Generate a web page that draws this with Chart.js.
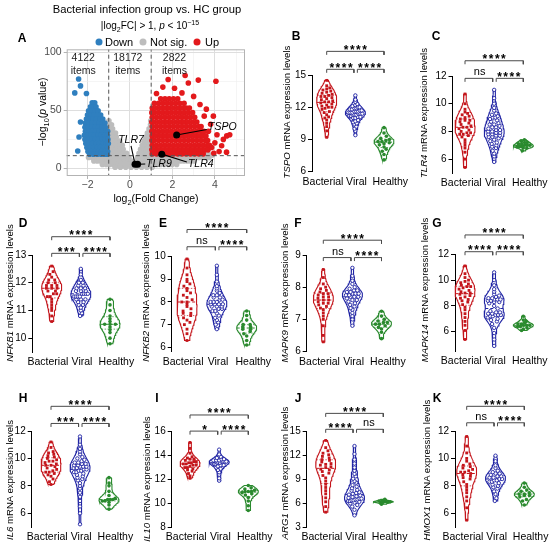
<!DOCTYPE html>
<html><head><meta charset="utf-8">
<script src="https://cdn.jsdelivr.net/npm/chart.js@4.4.1/dist/chart.umd.min.js"></script>
<style>
html,body{margin:0;padding:0;background:#fff;}
body{width:550px;height:548px;position:relative;overflow:hidden;font-family:'Liberation Sans',Arial,Helvetica,sans-serif;color:#000;}
canvas{position:absolute;}
.tx{position:absolute;white-space:nowrap;line-height:1;transform:translate(-50%,-50%);}
.rot{transform:translate(-50%,-50%) rotate(-90deg);}
.let{font-weight:bold;font-size:12px;}
.yt{font-size:9.6px;}
.lg{position:absolute;white-space:nowrap;line-height:1;font-size:11px;transform:translateY(-50%);}
.dot{position:absolute;width:7px;height:7px;border-radius:50%;transform:translate(-50%,-50%);}
sub,sup{font-size:70%;line-height:0;}
</style></head><body>
<script>
const FONT = "'Liberation Sans', Arial, Helvetica, sans-serif";
Chart.defaults.font.family = FONT;
Chart.defaults.color = '#000';
Chart.defaults.animation = false;
Chart.defaults.plugins.legend.display = false;
Chart.defaults.plugins.tooltip.enabled = false;

// ================= Panel A (volcano) data =================
const downPts = [
 [-1.78,56.5],[-1.66,56.5],
 [-1.86,53],[-1.72,53],[-1.6,53],
 [-1.95,49.5],[-1.8,49.5],[-1.64,49.5],[-1.5,49.5],
 [-2.0,46],[-1.84,46],[-1.68,46],[-1.52,46],[-1.38,46],
 [-2.05,42.5],[-1.9,42.5],[-1.74,42.5],[-1.58,42.5],[-1.42,42.5],[-1.28,42.5],
 [-2.1,39],[-1.94,39],[-1.78,39],[-1.62,39],[-1.46,39],[-1.3,39],[-1.18,39],
 [-2.12,35.5],[-1.96,35.5],[-1.8,35.5],[-1.64,35.5],[-1.48,35.5],[-1.32,35.5],[-1.16,35.5],
 [-2.1,32],[-1.94,32],[-1.78,32],[-1.62,32],[-1.46,32],[-1.3,32],[-1.14,32],[-1.05,32],
 [-2.15,28.5],[-1.99,28.5],[-1.83,28.5],[-1.67,28.5],[-1.51,28.5],[-1.35,28.5],[-1.19,28.5],[-1.06,28.5],
 [-2.12,25],[-1.96,25],[-1.8,25],[-1.64,25],[-1.48,25],[-1.32,25],[-1.16,25],[-1.04,25],
 [-2.08,21.5],[-1.92,21.5],[-1.76,21.5],[-1.6,21.5],[-1.44,21.5],[-1.28,21.5],[-1.12,21.5],[-1.02,21.5],
 [-2.03,18],[-1.87,18],[-1.71,18],[-1.55,18],[-1.39,18],[-1.23,18],[-1.08,18],
 [-1.98,14.5],[-1.82,14.5],[-1.66,14.5],[-1.5,14.5],[-1.34,14.5],[-1.18,14.5],[-1.05,14.5],
 [-1.9,12.2],[-1.72,12.2],[-1.54,12.2],[-1.36,12.2],[-1.2,12.2],[-1.06,12.2],
 [-2.42,77],[-2.33,71],[-2.6,65],[-2.05,64.5],[-2.33,40],[-2.4,27],[-2.46,15]
];
const upRows = [
 [60,[1.45,1.65,1.85,2.05,2.25]],
 [56,[1.15,1.35,1.55,1.75,1.95,2.15,2.35,2.55]],
 [52,[1.05,1.25,1.45,1.65,1.85,2.05,2.25,2.45,2.65,2.8]],
 [48,[1.03,1.15,1.35,1.55,1.75,1.95,2.15,2.35,2.55,2.75,2.95]],
 [44,[1.05,1.25,1.45,1.65,1.85,2.05,2.25,2.45,2.65,2.85,3.05]],
 [40,[1.03,1.15,1.35,1.55,1.75,1.95,2.15,2.35,2.55,2.75,2.95,3.15]],
 [36,[1.05,1.25,1.45,1.65,1.85,2.05,2.25,2.45,2.65,2.85,3.05,3.25,3.35]],
 [32,[1.03,1.15,1.35,1.55,1.75,1.95,2.15,2.35,2.55,2.75,2.95,3.15,3.35,3.48]],
 [28,[1.05,1.25,1.45,1.65,1.85,2.05,2.25,2.45,2.65,2.85,3.05,3.25,3.45,3.58]],
 [24,[1.03,1.15,1.35,1.55,1.75,1.95,2.15,2.35,2.55,2.75,2.95,3.15,3.35,3.55,3.66]],
 [20,[1.05,1.25,1.45,1.65,1.85,2.05,2.25,2.45,2.65,2.85,3.05,3.25,3.45,3.65,3.75]],
 [16,[1.03,1.15,1.35,1.55,1.75,1.95,2.15,2.35,2.55,2.75,2.95,3.15,3.35,3.55,3.68]],
 [12.5,[1.05,1.25,1.45,1.65,1.85,2.05,2.25,2.45,2.65,2.85,3.05,3.25,3.45]]
];
const upOutliers = [[1.25,64.5],[1.8,76.5],[1.55,70],[2.1,69],[2.45,65],[2.6,80],[2.75,73.5],[3.0,62],[3.22,76],[4.05,75],[3.3,55],[3.6,51],[3.5,45],[3.93,45],[3.8,38],[3.7,32],[4.1,29],[4.56,28],[4.7,29],[4.4,25],[4.0,22],[4.32,19.5],[3.85,18],[4.55,14],[4.2,14.5],[3.95,13]];
const nsRows = [
 [41,[-0.99,0.98]],
 [37.5,[-0.98,-0.87,0.97]],
 [34,[-0.98,-0.82,0.9]],
 [30.5,[-0.97,-0.82,-0.68,0.82,0.96]],
 [27,[-0.96,-0.8,-0.64,0.74,0.9]],
 [23.5,[-0.96,-0.8,-0.64,-0.48,0.66,0.82,0.97]],
 [20,[-0.95,-0.79,-0.63,-0.47,-0.36,0.58,0.74,0.9]],
 [16.5,[-0.96,-0.8,-0.64,-0.48,-0.32,0.5,0.66,0.82,0.97]],
 [13,[-0.95,-0.79,-0.63,-0.47,-0.31,-0.16,0.43,0.59,0.75,0.91]],
 [9.5,[-1.95,-1.78,-1.62,-1.46,-1.3,-1.14,-0.98,-0.82,-0.66,-0.5,-0.34,-0.18,-0.05,0.36,0.52,0.68,0.84,1.0,1.16,1.32,1.48,1.64,1.8,1.96,2.12,2.28,2.44,2.6,2.76,2.92,3.08,3.24,3.4,3.56,3.72]],
 [6.5,[-1.7,-1.54,-1.38,-1.22,-1.06,-0.9,-0.74,-0.58,-0.42,-0.26,-0.1,0.04,0.3,0.46,0.62,0.78,0.94,1.1,1.26,1.42,1.58,1.74,1.9,2.06,2.22,2.38,2.54,2.7,2.86,3.02]],
 [3.5,[-1.3,-1.12,-0.94,-0.76,-0.58,-0.4,-0.22,-0.04,0.12,0.24,0.4,0.56,0.72,0.9,1.08,1.26,1.44,1.62,1.8,1.98,2.2]],
 [1,[-0.7,-0.45,-0.2,0.05,0.3,0.55,0.8,1.05]]
];
const nsExtra = [[3.55,12.5],[3.72,12],[3.88,11.5]];
const geneNames = ['TSPO','TLR4','TLR7','TLR9'];
const genePts = [[2.2,28.8],[1.5,12.3],[0.24,3.6],[0.36,3.6]];
const itemCounts = ['4122','18172','2822'];
const fcCut = 1;
const pCut = 11;
const aXTicks = [-2,0,2,4];
const aYTicks = [0,50,100];

// ================= Violin panels data =================
const groups = ['Bacterial','Viral','Healthy'];

const TSPO_bacterial = [14.5,14.0,13.8,13.7,13.6,13.5,13.4,13.3,13.2,13.1,13.0,13.0,12.9,12.8,12.7,12.6,12.5,12.5,12.4,12.3,12.2,12.1,12.0,12.0,11.9,11.8,11.6,11.5,11.3,11.1,11.0,10.8,10.5,10.2,9.8,9.2];
const TSPO_viral = [13.1,12.7,12.5,12.3,12.2,12.1,12.0,12.0,11.9,11.9,11.8,11.8,11.7,11.7,11.6,11.6,11.6,11.5,11.5,11.5,11.4,11.4,11.4,11.3,11.3,11.3,11.2,11.2,11.1,11.1,11.0,11.0,10.9,10.8,10.7,10.6,10.5,10.4,10.2,10.0,9.8,9.4];
const TSPO_healthy = [10.1,9.6,9.3,9.1,9.0,8.9,8.8,8.8,8.7,8.6,8.5,8.3,8.1,7.9,7.6,7.1];
const TSPO_ticks = [6,9,12,15];
const TSPO_range = [6,15];
const TSPO_sig = ['****','****','****'];
const TSPO_brackets = [17.2,15.53];

const TLR4_bacterial = [10.7,10.0,9.6,9.4,9.3,9.2,9.1,9.0,8.9,8.8,8.8,8.7,8.6,8.5,8.4,8.3,8.3,8.2,8.1,8.0,7.9,7.9,7.8,7.8,7.7,7.6,7.4,7.2,7.0,6.8,6.5,6.0,5.4];
const TLR4_viral = [11.0,10.4,10.0,9.7,9.5,9.3,9.2,9.1,9.0,9.0,8.9,8.8,8.7,8.6,8.5,8.5,8.4,8.3,8.3,8.2,8.1,8.1,8.0,8.0,7.9,7.9,7.8,7.8,7.7,7.7,7.6,7.6,7.5,7.4,7.3,7.2,7.1,7.0,6.9,6.8,6.6,6.4,6.2,5.8];
const TLR4_healthy = [7.4,7.3,7.2,7.2,7.1,7.1,7.0,7.0,7.0,6.9,6.9,6.9,6.8,6.8,6.6];
const TLR4_ticks = [6,8,10,12];
const TLR4_range = [5,12];
const TLR4_sig = ['****','ns','****'];
const TLR4_brackets = [13.1,11.83];

const NFKB1_bacterial = [12.6,12.4,12.3,12.2,12.1,12.1,12.0,12.0,11.9,11.9,11.9,11.8,11.8,11.8,11.7,11.7,11.6,11.6,11.5,11.5,11.4,11.3,11.2,11.1,11.0,10.8,10.6];
const NFKB1_viral = [12.5,12.3,12.1,12.0,12.0,11.9,11.9,11.8,11.8,11.8,11.7,11.7,11.7,11.6,11.6,11.6,11.6,11.5,11.5,11.5,11.5,11.4,11.4,11.4,11.3,11.3,11.2,11.2,11.1,11.0,10.9,10.8];
const NFKB1_healthy = [11.4,11.2,11.0,10.8,10.7,10.6,10.5,10.5,10.5,10.4,10.3,10.2,10.0,9.8];
const NFKB1_ticks = [10,11,12,13];
const NFKB1_range = [9.5,13];
const NFKB1_sig = ['****','***','****'];
const NFKB1_brackets = [13.66,13.06];

const NFKB2_bacterial = [9.9,9.5,9.2,9.0,8.9,8.8,8.7,8.6,8.5,8.4,8.3,8.2,8.1,8.0,8.0,7.9,7.8,7.7,7.6,7.5,7.5,7.4,7.3,7.2,7.1,7.0,6.8,6.6,6.3];
const NFKB2_viral = [9.6,9.2,8.9,8.7,8.6,8.5,8.4,8.3,8.3,8.2,8.2,8.1,8.1,8.0,8.0,8.0,7.9,7.9,7.9,7.9,7.8,7.8,7.8,7.7,7.7,7.6,7.6,7.5,7.4,7.3,7.2,7.1,7.0,6.8];
const NFKB2_healthy = [7.6,7.4,7.2,7.0,7.0,6.9,6.9,6.8,6.8,6.7,6.6,6.5,6.3,6.1];
const NFKB2_ticks = [6,7,8,9,10];
const NFKB2_range = [5.8,10];
const NFKB2_sig = ['****','ns','****'];
const NFKB2_brackets = [11.2,10.44];

const MAPK9_bacterial = [8.55,8.3,8.1,8.0,7.95,7.9,7.85,7.8,7.8,7.75,7.7,7.7,7.65,7.6,7.6,7.55,7.5,7.5,7.45,7.4,7.35,7.3,7.2,7.1,7.0,6.8,6.5,6.3];
const MAPK9_viral = [8.6,8.35,8.2,8.1,8.0,7.95,7.9,7.9,7.85,7.85,7.8,7.8,7.8,7.75,7.75,7.7,7.7,7.7,7.65,7.6,7.6,7.55,7.5,7.45,7.4,7.35,7.3,7.2,7.1,7.0,6.8];
const MAPK9_healthy = [7.25,7.1,7.0,6.95,6.9,6.9,6.85,6.85,6.8,6.75,6.7,6.6,6.4];
const MAPK9_ticks = [6,7,8,9];
const MAPK9_range = [6,9];
const MAPK9_sig = ['****','ns','****'];
const MAPK9_brackets = [9.46,8.92];

const MAPK14_bacterial = [11.1,10.5,10.2,10.0,9.9,9.8,9.7,9.6,9.5,9.5,9.4,9.3,9.2,9.1,9.0,9.0,8.9,8.8,8.7,8.6,8.5,8.4,8.3,8.1,7.9,7.7,7.4,7.1,6.8,6.5,6.1,5.4];
const MAPK14_viral = [10.6,10.0,9.6,9.3,9.1,8.9,8.8,8.7,8.6,8.6,8.5,8.5,8.5,8.4,8.4,8.3,8.3,8.2,8.0,7.8,7.6,7.5,7.5,7.4,7.4,7.3,7.3,7.3,7.2,7.2,7.1,7.0,6.9,6.8,6.6,6.3,5.9,5.4,4.9];
const MAPK14_healthy = [7.2,6.9,6.8,6.7,6.6,6.6,6.5,6.5,6.5,6.4,6.4,6.3,6.2,6.1];
const MAPK14_ticks = [6,8,10,12];
const MAPK14_range = [4.5,12];
const MAPK14_sig = ['****','****','****'];
const MAPK14_brackets = [13.5,12.2];

const IL6_bacterial = [11.2,10.8,10.5,10.4,10.3,10.2,10.1,10.0,9.9,9.8,9.8,9.7,9.6,9.5,9.5,9.4,9.3,9.2,9.1,9.0,9.0,8.9,8.8,8.7,8.5,8.3,8.1];
const IL6_viral = [11.6,11.0,10.7,10.5,10.3,10.1,10.0,9.9,9.8,9.7,9.7,9.6,9.6,9.5,9.5,9.4,9.4,9.4,9.3,9.3,9.2,9.2,9.1,9.1,9.0,9.0,8.9,8.8,8.7,8.6,8.5,8.4,8.2,8.0,7.8,7.5,7.2,6.9,6.5,6.0,5.2];
const IL6_healthy = [8.6,8.2,8.0,7.6,7.3,7.1,7.0,7.0,7.0,6.9,6.9,6.8,6.6,6.3];
const IL6_ticks = [6,8,10,12];
const IL6_range = [5,12];
const IL6_sig = ['****','***','****'];
const IL6_brackets = [13.8,12.55];

const IL10_bacterial = [15.1,14.6,14.2,13.9,13.8,13.7,13.7,13.6,13.5,13.5,13.4,13.4,13.3,13.3,13.2,13.2,13.1,13.0,13.0,12.9,12.8,12.7,12.5,12.3,12.1];
const IL10_viral = [14.5,14.1,13.9,13.8,13.7,13.7,13.6,13.6,13.6,13.5,13.5,13.5,13.5,13.4,13.4,13.4,13.3,13.3,13.3,13.2,13.2,13.1,13.0,12.9,12.8,12.6,12.4,12.1,11.9];
const IL10_healthy = [11.5,11.3,11.2,11.1,11.0,11.0,11.0,10.9,10.8,10.7,10.5,10.2,9.8,9.4];
const IL10_ticks = [8,10,12,14,16];
const IL10_range = [8,16];
const IL10_sig = ['****','*','****'];
const IL10_brackets = [17.4,16.05];

const ARG1_bacterial = [13.9,13.0,12.6,12.3,12.1,11.9,11.7,11.5,11.4,11.2,11.0,10.9,10.8,10.6,10.5,10.3,10.2,10.0,9.8,9.5,9.2,8.8,8.4,8.0,7.6,7.2,6.7,6.2,5.6,4.9];
const ARG1_viral = [13.2,12.2,11.5,11.0,10.5,10.1,9.7,9.4,9.1,8.8,8.6,8.3,8.1,7.9,7.7,7.6,7.4,7.3,7.2,7.1,7.0,6.9,6.8,6.7,6.6,6.6,6.5,6.5,6.4,6.4,6.3,6.3,6.2,6.1,6.0,5.8,5.6,5.2,4.5];
const ARG1_healthy = [6.5,6.4,6.3,6.3,6.2,6.2,6.2,6.2,6.1,6.1,6.0,5.9];
const ARG1_ticks = [3,6,9,12,15];
const ARG1_range = [3,15];
const ARG1_sig = ['****','****','ns'];
const ARG1_brackets = [17.3,15.3];

const HMOX1_bacterial = [11.6,10.9,10.4,10.0,9.8,9.6,9.5,9.4,9.3,9.2,9.1,9.0,9.0,8.9,8.8,8.7,8.6,8.5,8.3,8.1,7.9,7.7,7.5,7.2,6.9,6.4,5.5];
const HMOX1_viral = [10.2,9.8,9.5,9.3,9.1,9.0,8.9,8.9,8.8,8.7,8.7,8.6,8.6,8.5,8.5,8.4,8.4,8.3,8.3,8.2,8.1,8.0,7.9,7.8,7.6,7.4,7.1,6.9];
const HMOX1_healthy = [8.2,7.9,7.7,7.6,7.5,7.4,7.4,7.3,7.3,7.2,7.0,6.9,6.6];
const HMOX1_ticks = [6,8,10,12];
const HMOX1_range = [5,12];
const HMOX1_sig = ['****','ns','****'];
const HMOX1_brackets = [13.8,12.6];

// ================= layout (positions / styles only) =================
const COLORS = ['#C4161C','#1F23A3','#2A8A2E'];
const labelPos = [0.87, 2.04, 3.22];
const layouts = {
 TSPO:  {letter:'B', axis:312,   c1:326.7, c3:384,   yTopPx:75,    yBotPx:171.7, lp:[296,36],  tp:[286.7,111.7]},
 TLR4:  {letter:'C', axis:452.5, c1:465,   c3:523.3, yTopPx:76,    yBotPx:173,   lp:[436,36],  tp:[424,113.3]},
 NFKB1: {letter:'D', axis:32.3,  c1:51.7,  c3:110,   yTopPx:255,   yBotPx:352,   lp:[23,223],  tp:[10,293]},
 NFKB2: {letter:'E', axis:171.7, c1:187,   c3:246.7, yTopPx:256.7, yBotPx:351.8, lp:[163,223], tp:[145.5,293]},
 MAPK9: {letter:'F', axis:306.7, c1:323.3, c3:381.5, yTopPx:255,   yBotPx:351.5, lp:[298,223], tp:[285,293.3]},
 MAPK14:{letter:'G', axis:455,   c1:465,   c3:523.3, yTopPx:254.3, yBotPx:351.1, lp:[437,223], tp:[425,290]},
 IL6:   {letter:'H', axis:31.7,  c1:51,    c3:109,   yTopPx:431,   yBotPx:527,   lp:[23,398],  tp:[10,480]},
 IL10:  {letter:'I', axis:171.7, c1:190,   c3:248.3, yTopPx:431.7, yBotPx:527.3, lp:[157,398], tp:[146.5,479]},
 ARG1:  {letter:'J', axis:306.7, c1:325.7, c3:383.3, yTopPx:431.7, yBotPx:527.3, lp:[298,398], tp:[285,473]},
 HMOX1: {letter:'K', axis:455,   c1:466.7, c3:524.3, yTopPx:431,   yBotPx:527,   lp:[437,398], tp:[426.7,470]}
};
const panels = [
 {gene:'TSPO',  series:[TSPO_bacterial,TSPO_viral,TSPO_healthy], ticks:TSPO_ticks, range:TSPO_range, sig:TSPO_sig, br:TSPO_brackets},
 {gene:'TLR4',  series:[TLR4_bacterial,TLR4_viral,TLR4_healthy], ticks:TLR4_ticks, range:TLR4_range, sig:TLR4_sig, br:TLR4_brackets},
 {gene:'NFKB1', series:[NFKB1_bacterial,NFKB1_viral,NFKB1_healthy], ticks:NFKB1_ticks, range:NFKB1_range, sig:NFKB1_sig, br:NFKB1_brackets},
 {gene:'NFKB2', series:[NFKB2_bacterial,NFKB2_viral,NFKB2_healthy], ticks:NFKB2_ticks, range:NFKB2_range, sig:NFKB2_sig, br:NFKB2_brackets},
 {gene:'MAPK9', series:[MAPK9_bacterial,MAPK9_viral,MAPK9_healthy], ticks:MAPK9_ticks, range:MAPK9_range, sig:MAPK9_sig, br:MAPK9_brackets},
 {gene:'MAPK14',series:[MAPK14_bacterial,MAPK14_viral,MAPK14_healthy], ticks:MAPK14_ticks, range:MAPK14_range, sig:MAPK14_sig, br:MAPK14_brackets},
 {gene:'IL6',   series:[IL6_bacterial,IL6_viral,IL6_healthy], ticks:IL6_ticks, range:IL6_range, sig:IL6_sig, br:IL6_brackets},
 {gene:'IL10',  series:[IL10_bacterial,IL10_viral,IL10_healthy], ticks:IL10_ticks, range:IL10_range, sig:IL10_sig, br:IL10_brackets},
 {gene:'ARG1',  series:[ARG1_bacterial,ARG1_viral,ARG1_healthy], ticks:ARG1_ticks, range:ARG1_range, sig:ARG1_sig, br:ARG1_brackets},
 {gene:'HMOX1', series:[HMOX1_bacterial,HMOX1_viral,HMOX1_healthy], ticks:HMOX1_ticks, range:HMOX1_range, sig:HMOX1_sig, br:HMOX1_brackets}
];

// ================= helpers =================
function addCanvas(left, top, w, h) {
  const c = document.createElement('canvas');
  c.width = w; c.height = h;
  c.style.left = left + 'px'; c.style.top = top + 'px';
  c.style.width = w + 'px'; c.style.height = h + 'px';
  document.body.appendChild(c);
  return c;
}
function addText(html, x, y, cls, extra) {
  const d = document.createElement('div');
  d.className = cls; d.innerHTML = html;
  d.style.left = x + 'px'; d.style.top = y + 'px';
  if (extra) Object.assign(d.style, extra);
  document.body.appendChild(d);
  return d;
}
function makeAnnot(items) {
  return {
    id: 'annot',
    afterDatasetsDraw(chart) {
      const ctx = chart.ctx, sx = chart.scales.x, sy = chart.scales.y;
      items.forEach(it => {
        ctx.save();
        ctx.font = it.font; ctx.fillStyle = it.color || '#000';
        ctx.textAlign = it.align || 'center';
        ctx.textBaseline = it.baseline || 'middle';
        if (it.spacing) ctx.letterSpacing = it.spacing + 'px';
        ctx.fillText(it.text, sx.getPixelForValue(it.x) + (it.dx || 0), sy.getPixelForValue(it.y) + (it.dy || 0));
        ctx.restore();
      });
    }
  };
}
function quantile(sorted, q) {
  const pos = (sorted.length - 1) * q, lo = Math.floor(pos), hi = Math.ceil(pos);
  return sorted[lo] + (sorted[hi] - sorted[lo]) * (pos - lo);
}
function violinShape(values, bwScale) {
  const n = values.length, mean = values.reduce((a, b) => a + b, 0) / n;
  const sd = Math.sqrt(values.reduce((a, b) => a + (b - mean) * (b - mean), 0) / (n - 1));
  const bw = 1.06 * sd * Math.pow(n, -0.2) * bwScale;
  const lo = Math.min(...values), hi = Math.max(...values);
  const dens = y => values.reduce((s, v) => s + Math.exp(-0.5 * ((y - v) / bw) * ((y - v) / bw)), 0);
  const ys = []; const STEPS = 48;
  for (let i = 0; i <= STEPS; i++) ys.push(lo + (hi - lo) * i / STEPS);
  const ds = ys.map(dens); const m = Math.max(...ds);
  return {lo, hi, ys, rel: ds.map(d => d / m), relAt: y => dens(y) / m};
}

// ================= Panel A: volcano =================
(function () {
  const upPts = upRows.flatMap(([y, xs]) => xs.map(x => [x, y])).concat(upOutliers);
  const nsPts = nsRows.flatMap(([y, xs]) => xs.map(x => [x, y])).concat(nsExtra);
  const toXY = arr => arr.map(([x, y]) => ({x, y}));
  const W = 258, H = 192;
  const cv = addCanvas(0, 0, W, H);
  const lineDs = (pts, extra) => Object.assign({data: toXY(pts), showLine: true, pointRadius: 0, borderColor: '#000', borderWidth: 1.1, fill: false}, extra);
  const datasets = [
    {label: 'Down', data: toXY(downPts), pointRadius: 2.8, backgroundColor: '#2F7FBF', borderWidth: 0, order: 3},
    {label: 'Not sig.', data: toXY(nsPts), pointRadius: 2.8, backgroundColor: '#BDBDBD', borderWidth: 0, order: 4},
    {label: 'Up', data: toXY(upPts), pointRadius: 2.8, backgroundColor: '#E3191C', borderWidth: 0, order: 2},
    lineDs([[-fcCut, -20], [-fcCut, 120]], {borderColor: '#555', borderWidth: 1, borderDash: [4, 3], order: 1}),
    lineDs([[fcCut, -20], [fcCut, 120]], {borderColor: '#555', borderWidth: 1, borderDash: [4, 3], order: 1}),
    lineDs([[-5, pCut], [7, pCut]], {borderColor: '#555', borderWidth: 1, borderDash: [4, 3], order: 1}),
    lineDs([genePts[0], [3.62, 33.5]], {order: 0}),
    lineDs([genePts[1], [2.68, 5.5]], {order: 0}),
    lineDs([[0.05, 19.5], genePts[2]], {order: 0}),
    lineDs([genePts[3], [0.72, 3.8]], {order: 0}),
    {label: 'genes', data: toXY(genePts), pointRadius: 3.5, backgroundColor: '#000', borderWidth: 0, order: 0}
  ];
  const fmt = v => v < 0 ? '\u2212' + Math.abs(v) : String(v);
  const frame = {
    id: 'frame',
    afterDatasetsDraw(chart) {
      const {ctx, chartArea: a} = chart;
      ctx.save(); ctx.strokeStyle = '#B3B3B3'; ctx.lineWidth = 1;
      ctx.strokeRect(a.left + 0.5, a.top + 0.5, a.right - a.left - 1, a.bottom - a.top - 1);
      ctx.restore();
    }
  };
  const cf = 'normal 10.5px ' + FONT, gf = 'italic 10.5px ' + FONT;
  const annot = makeAnnot([
    {text: itemCounts[0], x: -2.2, y: 94.5, font: cf, color: '#222'},
    {text: 'items', x: -2.2, y: 84, font: cf, color: '#222'},
    {text: itemCounts[1], x: -0.1, y: 94.5, font: cf, color: '#222'},
    {text: 'items', x: -0.1, y: 84, font: cf, color: '#222'},
    {text: itemCounts[2], x: 2.1, y: 94.5, font: cf, color: '#222'},
    {text: 'items', x: 2.1, y: 84, font: cf, color: '#222'},
    {text: geneNames[0], x: 3.68, y: 36, font: gf, align: 'left'},
    {text: geneNames[1], x: 2.73, y: 4.0, font: gf, align: 'left'},
    {text: geneNames[2], x: 0.05, y: 24, font: gf},
    {text: geneNames[3], x: 0.76, y: 4.0, font: gf, align: 'left'}
  ]);
  const major = (c, list) => c.tick && list.includes(c.tick.value);
  new Chart(cv, {
    type: 'scatter',
    data: {datasets},
    options: {
      responsive: false, animation: false, events: [],
      layout: {padding: {top: 49.3, right: W - 245, left: 0, bottom: 0}},
      scales: {
        x: {
          type: 'linear', min: -2.98, max: 5.42,
          afterBuildTicks: s => { s.ticks = [-2, -1, 0, 1, 2, 3, 4, 5].map(v => ({value: v})); },
          afterFit: s => { s.height = H - 176; },
          border: {display: false},
          grid: {
            color: c => major(c, aXTicks) ? '#DEDEDE' : '#EFEFEF',
            lineWidth: c => major(c, aXTicks) ? 1 : 0.6,
            drawTicks: true, tickLength: 3,
            tickColor: c => major(c, aXTicks) ? '#B3B3B3' : 'rgba(0,0,0,0)'
          },
          ticks: {autoSkip: false, maxRotation: 0, color: '#4D4D4D', font: {size: 10.5}, padding: 0,
                  callback: v => aXTicks.includes(v) ? fmt(v) : ''}
        },
        y: {
          type: 'linear', min: -6.5, max: 102.5,
          afterBuildTicks: s => { s.ticks = [0, 25, 50, 75, 100].map(v => ({value: v})); },
          afterFit: s => { s.width = 66.7; },
          border: {display: false},
          grid: {
            color: c => major(c, aYTicks) ? '#DEDEDE' : '#EFEFEF',
            lineWidth: c => major(c, aYTicks) ? 1 : 0.6,
            drawTicks: true, tickLength: 3,
            tickColor: c => major(c, aYTicks) ? '#B3B3B3' : 'rgba(0,0,0,0)'
          },
          ticks: {autoSkip: false, color: '#4D4D4D', font: {size: 10.5}, padding: 2,
                  callback: v => aYTicks.includes(v) ? fmt(v) : ''}
        }
      }
    },
    plugins: [frame, annot]
  });
  addText('Bacterial infection group vs. HC group', 147, 10, 'tx', {fontSize: '11.2px'});
  addText('|log<sub>2</sub>FC| &gt; 1, <i>p</i> &lt; 10<sup>\u221215</sup>', 150, 26, 'tx', {fontSize: '10px'});
  const lgY = 41.7;
  [['Down', '#2F7FBF', 99, 105], ['Not sig.', '#BDBDBD', 143, 150], ['Up', '#E3191C', 197, 205]].forEach(([t, col, dx, tx]) => {
    addText('', dx, lgY, 'dot', {background: col});
    addText(t, tx, lgY, 'lg');
  });
  addText('\u2212log<sub>10</sub>(<i>p</i> value)', 41.7, 112, 'tx rot', {fontSize: '10.5px'});
  addText('log<sub>2</sub>(Fold Change)', 156, 198, 'tx', {fontSize: '10.5px'});
  addText('A', 22, 38, 'tx let');
})();

// ================= violin panels =================
function makeViolinPanel(P) {
  const L = layouts[P.gene];
  const sp = (L.c3 - L.c1) / 2;
  const xmin = 1 - (L.c1 - L.axis) / sp, xmax = 3.5;
  const plotW = (xmax - xmin) * sp, plotH = L.yBotPx - L.yTopPx;
  const left = Math.round(L.axis - 30), top = Math.round(L.yTopPx - 44);
  const width = Math.round(L.axis + plotW + 26 - left), height = Math.round(L.yBotPx + 20 - top);
  const yW = L.axis - left, padTop = L.yTopPx - top;
  const padRight = (left + width) - (L.axis + plotW), xH = (top + height) - L.yBotPx;
  const [yMin, yMax] = P.range;
  const ppu = plotH / (yMax - yMin);
  const half = 10 / sp;
  const datasets = [];
  P.series.forEach((vals, g) => {
    const c = g + 1, col = COLORS[g];
    const sh = violinShape(vals, 0.7);
    const right = sh.ys.map((y, i) => ({x: c + sh.rel[i] * half, y}));
    const leftSide = sh.ys.map((y, i) => ({x: c - sh.rel[i] * half, y})).reverse();
    const outline = [{x: c, y: sh.lo}, ...right, {x: c, y: sh.hi}, ...leftSide, {x: c, y: sh.lo}];
    datasets.push({data: outline, showLine: true, pointRadius: 0, borderColor: col, borderWidth: 1.1, fill: false, tension: 0, clip: false, order: 3});
    const sorted = vals.slice().sort((a, b) => a - b);
    [0.25, 0.5, 0.75].forEach(q => {
      const qv = quantile(sorted, q), w = sh.relAt(qv) * half;
      datasets.push({data: [{x: c - w, y: qv}, {x: c + w, y: qv}], showLine: true, pointRadius: 0, borderColor: col,
        borderWidth: q === 0.5 ? 1 : 0.7, borderDash: q === 0.5 ? [3, 2] : [1.5, 1.5], clip: false, order: 2});
    });
    const bin = 3.2 / ppu, bins = {};
    sorted.forEach(v => { const k = Math.round(v / bin); (bins[k] = bins[k] || []).push(v); });
    const dots = [];
    Object.values(bins).forEach(arr => {
      const k = arr.length;
      arr.forEach((v, i) => { const w = sh.relAt(v) * half * 0.8; dots.push({x: c + ((i + 0.5) / k * 2 - 1) * w, y: v}); });
    });
    const style = g === 0 ? {pointStyle: 'rect', pointRadius: 2.0, backgroundColor: col, borderWidth: 0}
                : g === 1 ? {pointStyle: 'circle', pointRadius: 1.7, backgroundColor: '#ffffff', borderColor: col, borderWidth: 0.9}
                : {pointStyle: 'circle', pointRadius: 1.8, backgroundColor: col, borderWidth: 0};
    datasets.push(Object.assign({data: dots, clip: false, order: 1}, style));
  });
  const drop = 3.5 / ppu;
  const [topL, lowL] = P.br;
  const br = (a, b, yv) => [{x: a, y: yv - drop}, {x: a, y: yv}, {x: b, y: yv}, {x: b, y: yv - drop}];
  [[1, 3, topL], [1, 1.95, lowL], [2.07, 3, lowL]].forEach(([a, b, yv]) =>
    datasets.push({data: br(a, b, yv), showLine: true, pointRadius: 0, borderColor: '#4a4a4a', borderWidth: 1, clip: false, order: 0}));
  const sigItem = (t, x, yv) => t.includes('*')
    ? {text: t, x, y: yv, font: 'bold 12px ' + FONT, baseline: 'alphabetic', dy: 2.5, spacing: 1.5, dx: 0.75}
    : {text: t, x, y: yv, font: 'normal 11px ' + FONT, baseline: 'alphabetic', dy: -3};
  const annot = makeAnnot([sigItem(P.sig[0], 2, topL), sigItem(P.sig[1], 1.5, lowL), sigItem(P.sig[2], 2.5, lowL)]);
  const cv = addCanvas(left, top, width, height);
  new Chart(cv, {
    type: 'scatter',
    data: {datasets},
    options: {
      responsive: false, animation: false, events: [],
      layout: {padding: {top: padTop, right: padRight, left: 0, bottom: 0}},
      scales: {
        x: {
          type: 'linear', min: xmin, max: xmax,
          afterBuildTicks: s => { s.ticks = labelPos.map(v => ({value: v})); },
          afterFit: s => { s.height = xH; },
          border: {display: false},
          grid: {display: false, drawTicks: false},
          ticks: {autoSkip: false, maxRotation: 0, color: '#000', font: {size: 10.5}, padding: 4, callback: (v, i) => groups[i]}
        },
        y: {
          type: 'linear', min: yMin, max: yMax,
          afterBuildTicks: s => { s.ticks = P.ticks.map(v => ({value: v})); },
          afterFit: s => { s.width = yW; },
          border: {display: true, color: '#000', width: 1},
          grid: {drawOnChartArea: false, drawTicks: true, tickLength: 4, color: '#000', lineWidth: 1},
          ticks: {autoSkip: false, color: '#000', font: {size: 10}, padding: 2}
        }
      }
    },
    plugins: [annot]
  });
  addText(L.letter, L.lp[0], L.lp[1], 'tx let');
  addText('<i>' + P.gene + '</i> mRNA expression levels', L.tp[0], L.tp[1], 'tx rot yt');
}
panels.forEach(makeViolinPanel);
</script>
</body></html>
